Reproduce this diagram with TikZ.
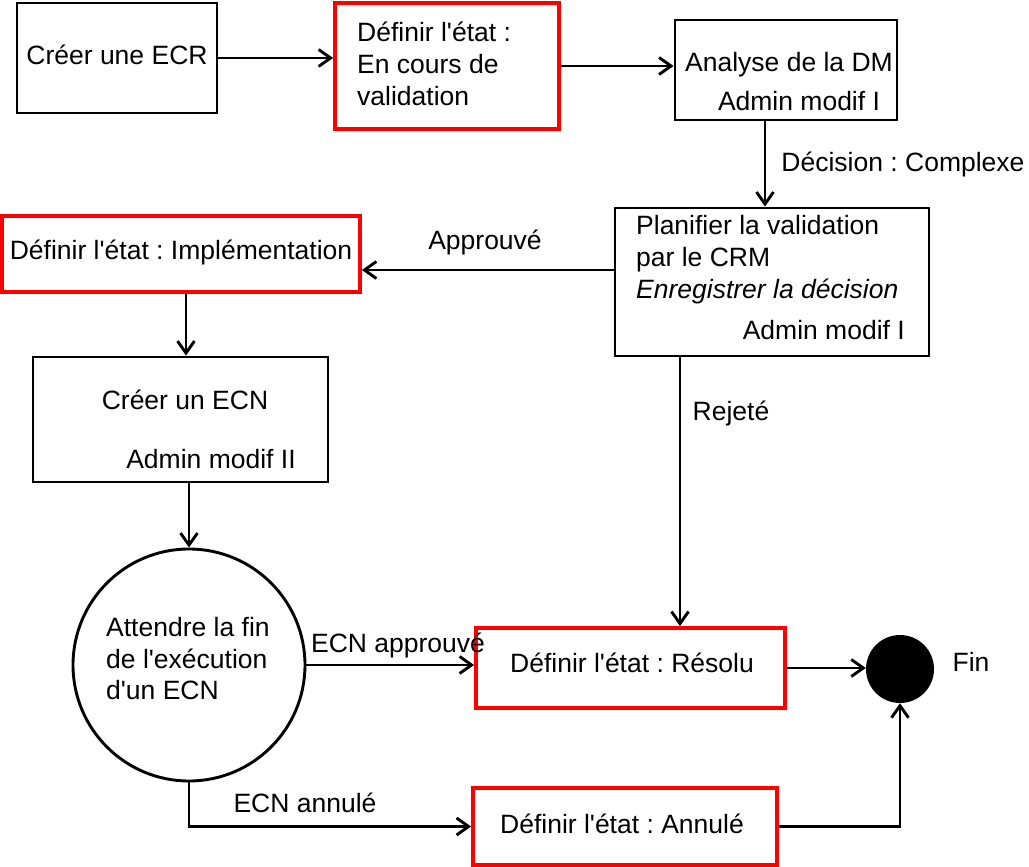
\documentclass[tikz,border=0pt]{standalone}
\usepackage{fontspec}
\setmainfont{Liberation Sans}[Ligatures=TeXOff]
\usetikzlibrary{arrows.meta}
\frenchspacing
\begin{document}
\begin{tikzpicture}[x=1pt,y=-1pt,
  every node/.style={font=\fontsize{26.5}{32}\selectfont},
  blackbox/.style={draw=black,line width=2.9pt,inner sep=0pt,rectangle},
  redbox/.style={draw=red,line width=3.8pt,inner sep=0pt,rectangle},
  txt/.style={inner sep=0pt,text height=19pt,text depth=0pt},
  arr/.style={line width=2.9pt,-{Straight Barb[length=12pt,width=17pt]}},
  ln/.style={line width=2.9pt}
]
\useasboundingbox (0,0) rectangle (1029,867);

% boxes
\node[blackbox,minimum width=200pt,minimum height=110pt] (b1) at (117,58) {};
\node[redbox,minimum width=224pt,minimum height=126pt] (b2) at (447,66) {};
\node[blackbox,minimum width=222pt,minimum height=100pt] (b3) at (786,70) {};
\node[blackbox,minimum width=314pt,minimum height=148pt] (b4) at (772,282) {};
\node[redbox,minimum width=358pt,minimum height=76pt] (impl) at (181,254) {};
\node[blackbox,minimum width=295pt,minimum height=125pt] (ecn) at (180.5,419.5) {};
\node[draw=black,line width=2.9pt,circle,inner sep=0pt,minimum size=232pt] (wait) at (189,665) {};
\node[redbox,minimum width=309pt,minimum height=80pt] (res) at (630.5,668) {};
\node[redbox,minimum width=304pt,minimum height=77pt] (ann) at (625,826.5) {};
\node[circle,fill=black,inner sep=0pt,minimum size=68pt] (fin) at (900,669) {};

% texts
\node[txt] (t1) at (117,55) {Créer une ECR};
\node[txt,anchor=west] (t2a) at (357,32) {Définir l'état :};
\node[txt,anchor=west] (t2b) at (357,64) {En cours de};
\node[txt,anchor=west] (t2c) at (357,96) {validation};
\node[txt] (t3a) at (789,62) {Analyse de la DM};
\node[txt] (t3b) at (799,101) {Admin modif I};
\node[txt] (lbl1) at (903,162) {Décision : Complexe};
\node[txt,anchor=west] (t4a) at (636,225) {Planifier la validation};
\node[txt,anchor=west] (t4b) at (636,257) {par le CRM};
\node[txt,anchor=west] (t4c) at (636,289) {\itshape Enregistrer la décision};
\node[txt,anchor=east] (t4d) at (905,330) {Admin modif I};
\node[txt] (lbl2) at (485,240) {Approuvé};
\node[txt] (timpl) at (181,250) {Définir l'état : Implémentation};
\node[txt] (tecna) at (185,400) {Créer un ECN};
\node[txt] (tecnb) at (211,459) {Admin modif II};
\node[txt] (lbl3) at (731,411) {Rejeté};
\node[txt,anchor=west] (twa) at (106,627) {Attendre la fin};
\node[txt,anchor=west] (twb) at (106,659) {de l'exécution};
\node[txt,anchor=west] (twc) at (106,690) {d'un ECN};
\node[txt] (lbl4) at (398,643) {ECN approuvé};
\node[txt] (lbl5) at (305,803) {ECN annulé};
\node[txt] (tres) at (632,663) {Définir l'état : Résolu};
\node[txt] (tann) at (622,824) {Définir l'état : Annulé};
\node[txt] (tfin) at (971,662) {Fin};

% connectors
\draw[arr] (b1.east) -- (b1.east -| b2.west);
\draw[arr] (b2.east) -- (b2.east -| b3.west);
\draw[arr] ([xshift=-21pt]b3.south) -- ([xshift=-21pt]b3.south |- b4.north);
\draw[arr] ([yshift=12pt]b4.west) -- ([yshift=12pt]b4.west -| impl.east);
\draw[arr] ([xshift=5pt]impl.south) -- ([xshift=5pt]impl.south |- ecn.north);
\draw[arr] (wait.north |- ecn.south) -- (wait.north);
\draw[arr] (wait.east) -- (wait.east -| res.west);
\draw[arr] (wait.south) -- (wait.south |- ann.west) -- (ann.west);
\draw[arr] ([xshift=-92pt]b4.south) -- ([xshift=-92pt]b4.south |- res.north);
\draw[arr] (res.east) -- (res.east -| fin.west);
\draw[arr] (ann.east) -- (ann.east -| fin.south) -- (fin.south);
\end{tikzpicture}
\end{document}
